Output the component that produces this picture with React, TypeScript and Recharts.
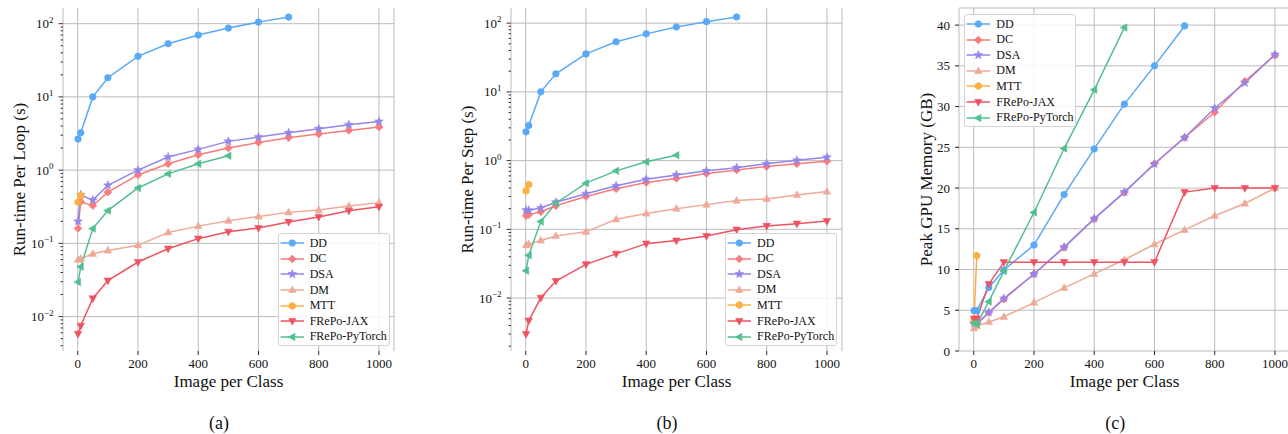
import React from "react";
import {
  LineChart,
  Line,
  XAxis,
  YAxis,
  CartesianGrid,
  ReferenceLine,
  ReferenceArea,
} from "recharts";

// images per class (x axis)
const ipc = [1, 10, 50, 100, 200, 300, 400, 500, 600, 700, 800, 900, 1000];

// (a) run-time per loop (s)
const loopDD = [2.66, 3.24, 10, 18.3, 35.8, 53.3, 70, 87, 105, 123];
const loopDC = [0.16, 0.37, 0.327, 0.5, 0.86, 1.22, 1.62, 2.0, 2.39, 2.77, 3.11, 3.49, 3.88];
const loopDSA = [0.2, 0.46, 0.39, 0.62, 1.0, 1.51, 1.92, 2.47, 2.83, 3.24, 3.68, 4.17, 4.62];
const loopDM = [0.0597, 0.062, 0.072, 0.08, 0.094, 0.141, 0.172, 0.204, 0.233, 0.265, 0.285, 0.324, 0.36];
const loopMTT = [0.366, 0.45];
const loopJAX = [0.0058, 0.0075, 0.0177, 0.031, 0.0556, 0.0845, 0.116, 0.144, 0.162, 0.196, 0.229, 0.279, 0.316];
const loopTorch = [0.0296, 0.048, 0.159, 0.28, 0.57, 0.89, 1.22, 1.57];

// (b) run-time per step (s)
const stepDD = [2.62, 3.24, 10, 18.3, 35.7, 53.5, 69.8, 88, 105, 123];
const stepDC = [0.158, 0.163, 0.18, 0.22, 0.3, 0.39, 0.48, 0.55, 0.65, 0.73, 0.82, 0.9, 0.98];
const stepDSA = [0.19, 0.19, 0.205, 0.248, 0.33, 0.43, 0.535, 0.62, 0.71, 0.79, 0.9, 1.01, 1.12];
const stepDM = [0.059, 0.061, 0.069, 0.08, 0.092, 0.14, 0.17, 0.2, 0.229, 0.262, 0.277, 0.316, 0.354];
const stepMTT = [0.363, 0.447];
const stepJAX = [0.003, 0.0047, 0.0101, 0.0177, 0.031, 0.044, 0.062, 0.0686, 0.08, 0.099, 0.112, 0.121, 0.132];
const stepTorch = [0.025, 0.042, 0.13, 0.24, 0.47, 0.71, 0.96, 1.2];

// (c) peak GPU memory (GB)
const memDD = [4.95, 4.95, 7.8, 9.95, 13.0, 19.2, 24.8, 30.3, 35.0, 39.9];
const memDC = [3.6, 3.3, 4.7, 6.35, 9.45, 12.7, 16.2, 19.45, 23.0, 26.2, 29.3, 33.1, 36.3];
const memDSA = [3.4, 3.3, 4.75, 6.45, 9.45, 12.75, 16.25, 19.5, 22.95, 26.2, 29.8, 32.9, 36.4];
const memDM = [2.8, 3.07, 3.56, 4.2, 5.93, 7.74, 9.46, 11.2, 13.1, 14.86, 16.6, 18.1, 20.0];
const memMTT = [3.8, 11.7];
const memJAX = [3.97, 3.97, 8.2, 10.9, 10.9, 10.9, 10.9, 10.9, 10.9, 19.5, 20.0, 20.0, 20.0];
const memTorch = [3.4, 3.3, 6.06, 9.8, 17.0, 24.85, 32.06, 39.7];

const xTicks = [0, 200, 400, 600, 800, 1000];
const logExponents = [-2, -1, 0, 1, 2];
const memTicks = [0, 5, 10, 15, 20, 25, 30, 35, 40];

const FONT = "'Liberation Serif', 'Times New Roman', serif";
const GRID = "#bcbcbc";

const methods = [
  { key: "DD", color: "#5aa9f6", shape: "o" },
  { key: "DC", color: "#f97b7b", shape: "D" },
  { key: "DSA", color: "#9385ea", shape: "*" },
  { key: "DM", color: "#eeaa98", shape: "^" },
  { key: "MTT", color: "#fdb042", shape: "h" },
  { key: "FRePo-JAX", color: "#ef5261", shape: "v" },
  { key: "FRePo-PyTorch", color: "#52bf91", shape: "<" },
];

function buildRows(series: Record<string, number[]>) {
  return ipc.map((x, i) => {
    const row: Record<string, number | null> = { x };
    for (const k of Object.keys(series)) row[k] = series[k][i] ?? null;
    return row;
  });
}

const loopRows = buildRows({
  DD: loopDD, DC: loopDC, DSA: loopDSA, DM: loopDM, MTT: loopMTT,
  "FRePo-JAX": loopJAX, "FRePo-PyTorch": loopTorch,
});
const stepRows = buildRows({
  DD: stepDD, DC: stepDC, DSA: stepDSA, DM: stepDM, MTT: stepMTT,
  "FRePo-JAX": stepJAX, "FRePo-PyTorch": stepTorch,
});
const memRows = buildRows({
  DD: memDD, DC: memDC, DSA: memDSA, DM: memDM, MTT: memMTT,
  "FRePo-JAX": memJAX, "FRePo-PyTorch": memTorch,
});

// majors + minor ticks (2..9 per decade) inside the axis range
function logTicks(lo: number, hi: number) {
  const out: number[] = [];
  for (let e = -4; e <= 3; e++) {
    for (let m = 1; m <= 9; m++) {
      const v = Number((m * Math.pow(10, e)).toPrecision(3));
      if (v >= lo && v <= hi) out.push(v);
    }
  }
  return out;
}

function Marker({ shape, cx, cy, color }: any) {
  if (cx == null || cy == null || isNaN(cy)) return <g />;
  const pts = (arr: number[][]) => arr.map(([dx, dy]) => `${cx + dx},${cy + dy}`).join(" ");
  const common = { fill: color, stroke: color, strokeWidth: 0.6 };
  switch (shape) {
    case "o":
      return <circle cx={cx} cy={cy} r={3.3} {...common} />;
    case "D":
      return <polygon points={pts([[0, -3.9], [3.9, 0], [0, 3.9], [-3.9, 0]])} {...common} />;
    case "*": {
      const a: number[][] = [];
      for (let i = 0; i < 10; i++) {
        const r = i % 2 === 0 ? 4.5 : 1.9;
        const ang = -Math.PI / 2 + (i * Math.PI) / 5;
        a.push([r * Math.cos(ang), r * Math.sin(ang)]);
      }
      return <polygon points={pts(a)} {...common} />;
    }
    case "^":
      return <polygon points={pts([[0, -4.1], [3.7, 2.6], [-3.7, 2.6]])} {...common} />;
    case "v":
      return <polygon points={pts([[0, 4.1], [3.7, -2.6], [-3.7, -2.6]])} {...common} />;
    case "<":
      return <polygon points={pts([[-4.1, 0], [2.6, -3.7], [2.6, 3.7]])} {...common} />;
    case "h": {
      const a: number[][] = [];
      for (let i = 0; i < 6; i++) {
        const ang = -Math.PI / 2 + (i * Math.PI) / 3;
        a.push([3.7 * Math.cos(ang), 3.7 * Math.sin(ang)]);
      }
      return <polygon points={pts(a)} {...common} />;
    }
    default:
      return <g />;
  }
}

function LogTick({ x, y, payload }: any) {
  const v = payload.value;
  const e = Math.log10(v);
  const major = Math.abs(e - Math.round(e)) < 1e-6;
  const exp = Math.round(e);
  return (
    <g>
      <line x1={x} x2={x - (major ? 4.5 : 2.5)} y1={y} y2={y} stroke="#222" strokeWidth={0.9} />
      {major && (
        <text x={x - 9.5} y={y + 4.5} textAnchor="end" fontSize={13} fill="#111" fontFamily={FONT}>
          10
          <tspan dy={-5.5} fontSize={9}>
            {exp < 0 ? `\u2212${-exp}` : `${exp}`}
          </tspan>
        </text>
      )}
    </g>
  );
}

function PanelLegend({ left, top }: { left: number; top: number }) {
  return (
    <div
      style={{
        position: "absolute", left, top, width: 112, height: 113,
        border: "1px solid #d4d4d4", borderRadius: 3, boxSizing: "border-box",
        background: "rgba(255,255,255,0.85)", fontFamily: FONT,
      }}
    >
      {methods.map((m, i) => (
        <div key={m.key} style={{ position: "absolute", left: 0, top: 1 + i * 15.6, height: 16, display: "flex", alignItems: "center" }}>
          <svg width={31} height={16} style={{ display: "block" }}>
            <line x1={1.6} x2={25} y1={8} y2={8} stroke={m.color} strokeWidth={1.5} />
            <Marker shape={m.shape} cx={13.3} cy={8} color={m.color} />
          </svg>
          <span style={{ fontSize: 12, color: "#111", whiteSpace: "nowrap" }}>{m.key}</span>
        </div>
      ))}
    </div>
  );
}

type PanelProps = {
  left: number;
  rows: any[];
  log: boolean;
  domain: [number, number];
  yLabel: string;
  yLabelOffset: number;
  legend: { left: number; top: number };
  caption: string;
};

function Panel({ left, rows, log, domain, yLabel, yLabelOffset, legend, caption }: PanelProps) {
  const ticks = log ? logTicks(domain[0], domain[1]) : memTicks;
  const yTitle = {
    value: yLabel, angle: -90, position: "insideLeft" as const, offset: yLabelOffset,
    fill: "#111", fontSize: 17, fontFamily: FONT, style: { textAnchor: "middle" },
  };
  return (
    <div style={{ position: "absolute", left, top: 0, width: 400, height: 434 }}>
      <LineChart width={400} height={400} data={rows} margin={{ top: 8, right: 6, left: 0, bottom: 0 }}>
        <CartesianGrid stroke={GRID} strokeWidth={1} horizontal={!log} />
        {log &&
          logExponents.map((e) => (
            <ReferenceLine key={e} y={Math.pow(10, e)} stroke={GRID} strokeWidth={1} />
          ))}
        <XAxis
          dataKey="x"
          type="number"
          domain={[-48.95, 1049.95]}
          allowDataOverflow
          ticks={xTicks}
          interval={0}
          height={49}
          axisLine={false}
          tickSize={4}
          tickMargin={4}
          tickLine={{ stroke: "#222" }}
          tick={{ fill: "#111", fontSize: 13, fontFamily: FONT }}
          label={{ value: "Image per Class", position: "insideBottom", offset: 13, fill: "#111", fontSize: 17, fontFamily: FONT }}
        />
        {log ? (
          <YAxis
            type="number"
            scale="log"
            domain={domain}
            allowDataOverflow
            ticks={ticks}
            interval={0}
            width={63}
            axisLine={false}
            tickLine={false}
            tickSize={0}
            tickMargin={0}
            tick={<LogTick />}
            label={yTitle}
          />
        ) : (
          <YAxis
            type="number"
            domain={domain}
            allowDataOverflow
            ticks={ticks}
            interval={0}
            width={63}
            axisLine={false}
            tickSize={4}
            tickMargin={5}
            tickLine={{ stroke: "#222" }}
            tick={{ fill: "#111", fontSize: 13, fontFamily: FONT }}
            label={yTitle}
          />
        )}
        {methods.map((m) => (
          <Line
            key={m.key}
            dataKey={m.key}
            stroke={m.color}
            strokeWidth={1.5}
            isAnimationActive={false}
            activeDot={false}
            dot={(p: any) => <Marker key={`${m.key}-${p.index}`} shape={m.shape} cx={p.cx} cy={p.cy} color={m.color} />}
          />
        ))}
        <ReferenceArea ifOverflow="visible" fill="none" stroke="#1a1a1a" strokeWidth={1.3} />
      </LineChart>
      <PanelLegend left={legend.left} top={legend.top} />
      <div
        style={{
          position: "absolute", left: 219 - 30, width: 60, top: 414, textAlign: "center",
          fontSize: 18, lineHeight: "18px", fontFamily: FONT, color: "#111",
        }}
      >
        {caption}
      </div>
    </div>
  );
}

export default function App() {
  return (
    <div style={{ position: "absolute", left: 0, top: 0, width: 1288, height: 434, overflow: "hidden", background: "#fff" }}>
      <Panel
        left={0}
        rows={loopRows}
        log
        domain={[0.00339, 163.7]}
        yLabel="Run-time Per Loop (s)"
        yLabelOffset={19}
        legend={{ left: 277.7, top: 233.3 }}
        caption="(a)"
      />
      <Panel
        left={448}
        rows={stepRows}
        log
        domain={[0.0017, 166]}
        yLabel="Run-time Per Step (s)"
        yLabelOffset={18.7}
        legend={{ left: 277, top: 233 }}
        caption="(b)"
      />
      <Panel
        left={896.3}
        rows={memRows}
        log={false}
        domain={[0, 42.1]}
        yLabel="Peak GPU Memory (GB)"
        yLabelOffset={30.4}
        legend={{ left: 68, top: 14 }}
        caption="(c)"
      />
    </div>
  );
}
